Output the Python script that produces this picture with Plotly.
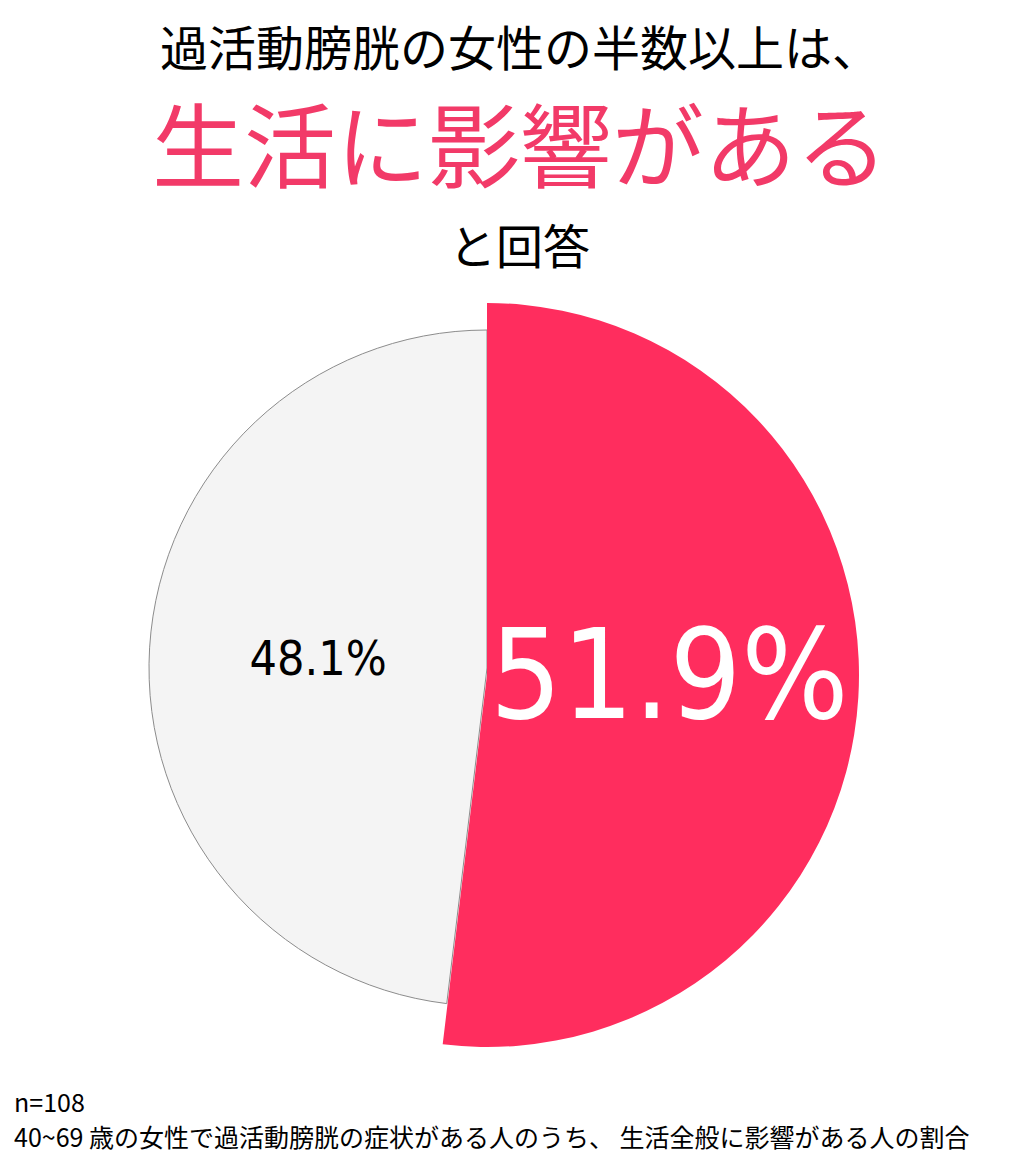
import plotly.graph_objects as go

# data
labels = ['影響がある', '影響はない']
values = [51.9, 48.1]

title_1 = '過活動膀胱の女性の半数以上は、'
title_2 = '生活に影響がある'
title_3 = 'と回答'
note_1 = 'n=108'
note_2 = '40~69 歳の女性で過活動膀胱の症状がある人のうち、 生活全般に影響がある人の割合'

W, H = 1023, 1160
OFF = 8  # page body margin
PINK = '#FF2D5E'
GREY = '#F4F4F4'
CLEAR = 'rgba(0,0,0,0)'


def dom(cx, cy, r):
    # domain for a pie of radius r (px) centred on cx, cy (px from top-left of page)
    cx, cy = cx - OFF, cy - OFF
    return dict(x=[(cx - r) / W, (cx + r) / W],
                y=[(H - cy - r) / H, (H - cy + r) / H])


def py(y):
    return 1 - (y - OFF) / H


fig = go.Figure()

# grey slice (smaller radius, with outline)
fig.add_trace(go.Pie(
    labels=labels, values=values, sort=False, direction='clockwise', rotation=0,
    domain=dom(487, 668, 338),
    marker=dict(colors=[CLEAR, GREY], line=dict(color=[CLEAR, '#8C8C8C'], width=[0, 1])),
    texttemplate=['', '%{value}%'], textposition='inside', insidetextorientation='horizontal',
    textfont=dict(family='DejaVu Sans Condensed, DejaVu Sans', size=48, color='black'),
    hoverinfo='skip',
))

# pink slice (bigger radius)
fig.add_trace(go.Pie(
    labels=labels, values=values, sort=False, direction='clockwise', rotation=0,
    domain=dom(487, 675, 372),
    marker=dict(colors=[PINK, CLEAR], line=dict(width=0)),
    texttemplate=['%{value}%', ''], textposition='inside', insidetextorientation='horizontal',
    textfont=dict(family='DejaVu Sans Condensed, DejaVu Sans', size=127, color='white'),
    hoverinfo='skip',
))

jp = 'Noto Sans CJK JP'
fig.add_annotation(text=title_1, x=0.5, y=py(45), xref='paper', yref='paper',
                   yanchor='middle', showarrow=False, font=dict(family=jp, size=48, color='black'))
fig.add_annotation(text=title_2, x=0.5, y=py(140), xref='paper', yref='paper',
                   yanchor='middle', showarrow=False, font=dict(family=jp, size=92, color='#F23A68'))
fig.add_annotation(text=title_3, x=0.5, y=py(243), xref='paper', yref='paper',
                   yanchor='middle', showarrow=False, font=dict(family=jp, size=47, color='black'))
fig.add_annotation(text=note_1, x=(12 - OFF) / W, y=py(1101), xref='paper', yref='paper',
                   xanchor='left', yanchor='middle', showarrow=False,
                   font=dict(family=jp, size=25, color='black'))
fig.add_annotation(text=note_2, x=(12 - OFF) / W, y=py(1136), xref='paper', yref='paper',
                   xanchor='left', yanchor='middle', showarrow=False,
                   font=dict(family=jp, size=25, color='black'))

fig.update_layout(
    width=W, height=H,
    margin=dict(l=0, r=0, t=0, b=0),
    showlegend=False,
    paper_bgcolor='white',
    plot_bgcolor='white',
)

fig.write_html('out.html')
